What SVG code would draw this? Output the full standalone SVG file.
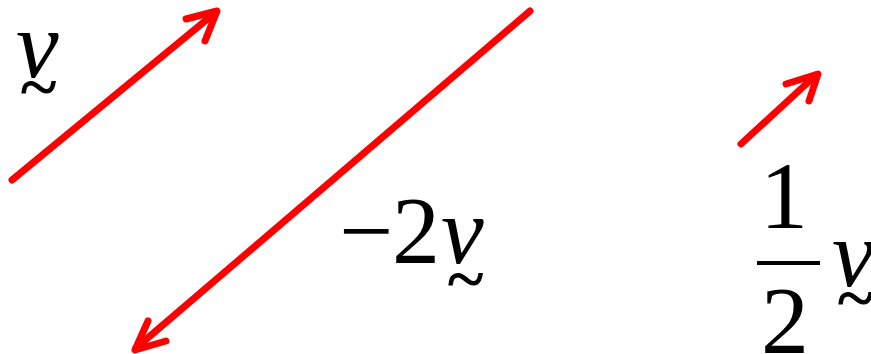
<svg xmlns="http://www.w3.org/2000/svg" width="871" height="354" viewBox="0 0 871 354">
<style>
.arr{fill:none;stroke:#ff0000;stroke-width:7;stroke-linecap:round;stroke-linejoin:round}
.m{font-family:"Liberation Serif","Times New Roman",serif;font-size:96px;fill:#000}
.i{font-style:italic}
.c{text-anchor:middle}
.t{font-family:"Liberation Serif","Times New Roman",serif;font-size:69px;fill:#000;stroke:#000;stroke-width:1}
</style>
<rect width="871" height="354" fill="#fff"/>
<g id="connectors">
<g id="arrow-v"><line class="arr" x1="12" y1="180" x2="216" y2="12"/><polyline class="arr" points="186,19 217,11 205,41"/></g>
<g id="arrow-m2v"><line class="arr" x1="530" y1="11" x2="136" y2="348"/><polyline class="arr" points="148,321 135,350 166,341"/></g>
<g id="arrow-halfv"><line class="arr" x1="741" y1="144" x2="816" y2="75"/><polyline class="arr" points="786,84 818,74 809,101"/></g>
</g>
<g id="label-v">
<text class="m i" x="16" y="77">v</text>
<text class="t" x="20" y="110">~</text>
</g>
<g id="label-m2v">
<text class="m" x="339" y="263">−</text>
<text class="m" x="392" y="263">2</text>
<text class="m i" x="441" y="263">v</text>
<text class="t" x="447" y="302">~</text>
</g>
<g id="label-halfv">
<text class="m c" x="784" y="228">1</text>
<line x1="757" y1="263" x2="820" y2="263" stroke="#000" stroke-width="4"/>
<text class="m c" x="785" y="353">2</text>
<text class="m i" x="832" y="286">v</text>
<text class="t" x="837" y="321">~</text>
</g>
</svg>
